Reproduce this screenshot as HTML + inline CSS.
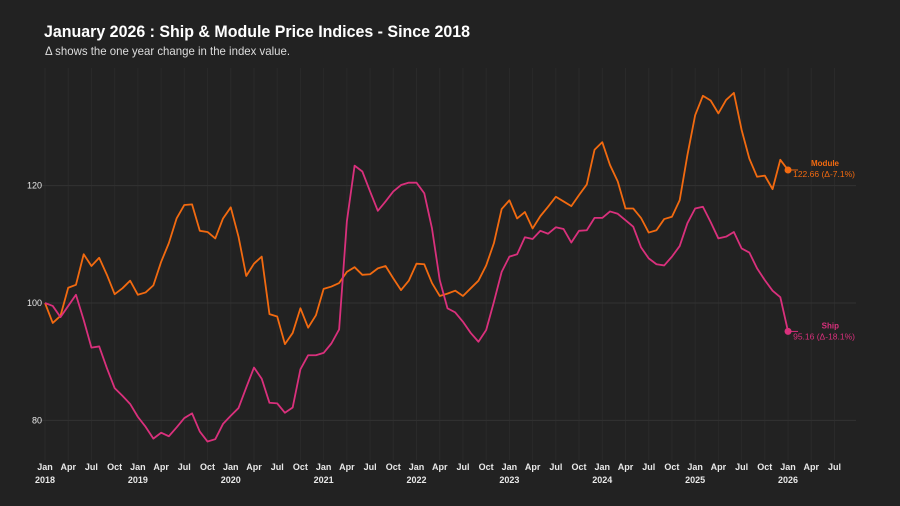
<!DOCTYPE html>
<html><head><meta charset="utf-8">
<style>
body{margin:0;background:#222222;}
svg{display:block;font-family:"Liberation Sans",sans-serif;}
</style></head>
<body>
<svg id="chart" width="900" height="506">
<rect width="900" height="506" fill="#222222"/>
<text x="44" y="37" fill="#ffffff" font-size="17" font-weight="bold" textLength="426" lengthAdjust="spacingAndGlyphs">January 2026 : Ship &amp; Module Price Indices - Since 2018</text>
<text x="45" y="55" fill="#dddddd" font-size="12" textLength="245" lengthAdjust="spacingAndGlyphs">Δ shows the one year change in the index value.</text>
<g id="grid"></g><g id="axes"></g><g id="series"></g><g id="labels"></g>
</svg>
<script>
const months=["Jan","Apr","Jul","Oct"];
const yTicks=[80,100,120];
const moduleValues=[100,96.6,97.8,102.6,103.1,108.3,106.3,107.7,104.8,101.5,102.5,103.8,
101.4,101.8,103,107,110.2,114.4,116.7,116.8,112.3,112.1,111,114.4,
116.3,111.3,104.6,106.7,107.9,98.1,97.7,93,94.9,99.1,95.8,97.9,
102.4,102.8,103.4,105.3,106.1,104.8,104.9,105.9,106.3,104.2,102.2,103.8,
106.7,106.6,103.4,101.2,101.6,102.1,101.2,102.5,103.8,106.4,110.2,116,
117.5,114.4,115.5,112.7,114.8,116.4,118.1,117.3,116.5,118.4,120.2,126.1,
127.4,123.5,120.7,116.1,116.1,114.5,112,112.4,114.3,114.7,117.5,125.2,
132,135.3,134.5,132.3,134.6,135.8,129.5,124.6,121.5,121.7,119.4,124.4,122.66];
const shipValues=[100,99.5,97.6,99.5,101.4,97.1,92.4,92.6,88.9,85.5,84.2,82.8,
80.6,78.9,76.9,77.9,77.3,78.8,80.4,81.2,78.1,76.4,76.8,79.4,
80.8,82.1,85.6,89,87.1,83,82.9,81.3,82.2,88.7,91.1,91.1,
91.5,93.1,95.5,113.9,123.4,122.4,119,115.7,117.3,119,120.1,120.5,
120.5,118.7,112.7,103.9,99.1,98.4,96.8,94.9,93.4,95.4,100.2,105.3,
107.9,108.3,111.2,110.9,112.3,111.8,112.9,112.6,110.3,112.3,112.4,114.5,
114.5,115.6,115.2,114.1,113,109.5,107.6,106.6,106.4,107.9,109.7,113.6,
116.1,116.4,113.8,111,111.3,112.1,109.3,108.6,105.9,103.9,102.1,101,95.16];
const moduleLabel=["Module","122.66 (Δ-7.1%)"];
const shipLabel=["Ship","95.16 (Δ-18.1%)"];
const NS="http://www.w3.org/2000/svg";
const x=m=>45+m*7.74;
const y=v=>303-(v-100)*5.87;
function el(t,a,p){const e=document.createElementNS(NS,t);for(const k in a)e.setAttribute(k,a[k]);document.getElementById(p).appendChild(e);return e;}
for(let m=0;m<=102;m+=3){
 const g=el("line",{x1:x(m),x2:x(m),y1:68,y2:460,stroke:"#2a2a2a","stroke-width":1},"grid");
 
 
 const t=el("text",{x:x(m),y:470,fill:"#e8e8e8","font-size":9,"font-weight":"bold","text-anchor":"middle"},"axes");
 t.textContent=months[(m/3)%4];
 
 
 if(m%12===0){
  const yr=el("text",{x:x(m),y:483,fill:"#e8e8e8","font-size":9,"font-weight":"bold","text-anchor":"middle"},"axes");
  yr.textContent=String(2018+m/12);
  
  
 }
}
yTicks.forEach(v=>{
 const g=el("line",{x1:40,x2:856,y1:y(v),y2:y(v),stroke:"#323232","stroke-width":1},"grid");
 
 
 const t=el("text",{x:42,y:y(v)+3,fill:"#e8e8e8","font-size":9,"text-anchor":"end"},"axes");
 t.textContent=v;
 
 
});
function series(vals,color,name,lab,dy){
 const p=el("polyline",{points:vals.map((v,i)=>x(i)+","+y(v)).join(" "),fill:"none",stroke:color,"stroke-width":1.8,"stroke-linejoin":"round"},"series");
 
 
 const n=vals.length-1, lx=x(n), ly=y(vals[n]);
 const c=el("circle",{cx:lx,cy:ly,r:3.5,fill:color},"series");
 
 
 const l=el("line",{x1:lx,x2:lx+10,y1:ly,y2:ly,stroke:color,"stroke-width":1},"series");
 
 
 const t1=el("text",{x:839,y:ly+dy,fill:color,"font-size":8,"font-weight":"bold","text-anchor":"end"},"labels");
 t1.textContent=lab[0];
 
 
 const t2=el("text",{x:855,y:ly+dy+11,fill:color,"font-size":8.5,"text-anchor":"end"},"labels");
 t2.textContent=lab[1];
 
 
}
series(moduleValues,"#f26a10","module",moduleLabel,-4);
series(shipValues,"#d9307c","ship",shipLabel,-3);
</script>
</body></html>
